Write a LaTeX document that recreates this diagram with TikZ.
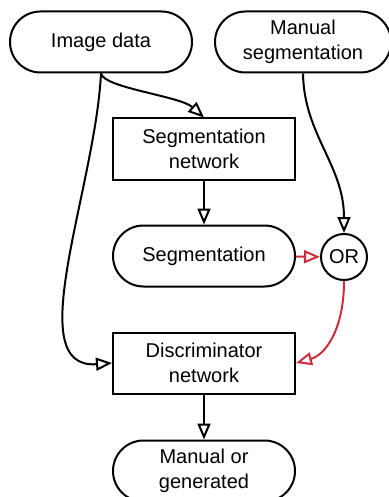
\documentclass[tikz,border=0pt]{standalone}
\usepackage{fontspec}
\setmainfont{Liberation Sans}
\usetikzlibrary{shapes.misc,arrows.meta}
\definecolor{orred}{RGB}{205,45,60}
\begin{document}
\begin{tikzpicture}[x=1pt,y=-1pt,
  every node/.style={font=\fontsize{20}{25}\selectfont, align=center, line width=2pt, inner sep=0pt},
  stadium/.style={draw, rounded rectangle, minimum width=182pt, minimum height=61pt},
  netbox/.style={draw, rectangle, minimum width=182pt, minimum height=61pt},
  flow/.style={line width=2pt, -{Triangle[open, length=16pt, width=13pt]}},
  redflow/.style={flow, orred}]
  \useasboundingbox (0,0) rectangle (388,497);

  % Draw nodes
  \node[stadium] (img) at (101,42) {Image data};
  \node[stadium, minimum width=176pt] (manseg) at (303,42) {Manual\\segmentation};
  \node[netbox] (segnet) at (204,149) {Segmentation\\network};
  \node[stadium] (seg) at (204,256) {Segmentation};
  \node[draw, circle, minimum size=46pt] (orn) at (344,257) {OR};
  \node[netbox] (disc) at (204,363) {Discriminator\\network};
  \node[stadium] (out) at (204,471) {Manual or\\generated};

  % Draw connectors
  \draw[flow] (img.south) .. controls (104,88) and (180,96) .. (segnet.north);
  \draw[flow] (img.south) .. controls (95,190) and (20,370) .. (disc.west);
  \draw[flow] (manseg.south) .. controls (304,135) and (344,165) .. (orn.north);
  \draw[flow] (segnet) -- (seg);
  \draw[redflow] (seg) -- (orn);
  \draw[redflow] (orn.south) .. controls (344,330) and (325,355) .. (disc.east);
  \draw[flow] (disc) -- (out);
\end{tikzpicture}
\end{document}
